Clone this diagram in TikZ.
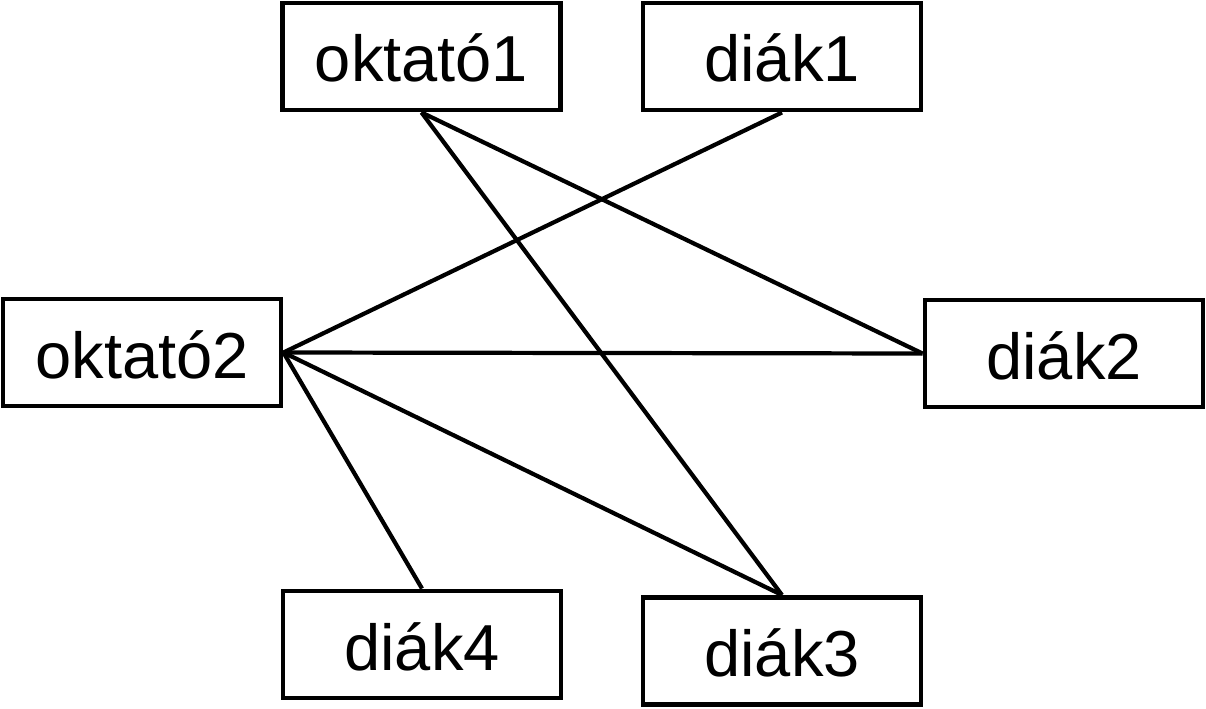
\documentclass[tikz,border=0pt]{standalone}
\usepackage{fontspec}
\setmainfont{Liberation Sans}
\usepackage{tikz}

\begin{document}
\begin{tikzpicture}[
    person/.style={draw,line width=2.8pt,minimum width=5.56cm,minimum height=2.14cm,inner sep=0pt,text height=1.02cm,text depth=0pt,font=\fontsize{37}{44}\selectfont},
    link/.style={line width=2.4pt}]
  \useasboundingbox (0,0) rectangle (24.12,14.16);
  \node[person] (okt1) at (8.43,13.03) {oktató1};
  \node[person] (diak1) at (15.64,13.03) {diák1};
  \node[person] (okt2) at (2.84,7.11) {oktató2};
  \node[person] (diak2) at (21.28,7.09) {diák2};
  \node[person] (diak4) at (8.44,1.27) {diák4};
  \node[person] (diak3) at (15.64,1.14) {diák3};
  % kapcsolatok
  \draw[link] (okt1.south) -- (diak2.west);
  \draw[link] (okt1.south) -- (diak3.north);
  \draw[link] (diak1.south) -- (okt2.east);
  \draw[link] (okt2.east) -- (diak2.west);
  \draw[link] (okt2.east) -- (diak4.north);
  \draw[link] (okt2.east) -- (diak3.north);
\end{tikzpicture}
\end{document}
